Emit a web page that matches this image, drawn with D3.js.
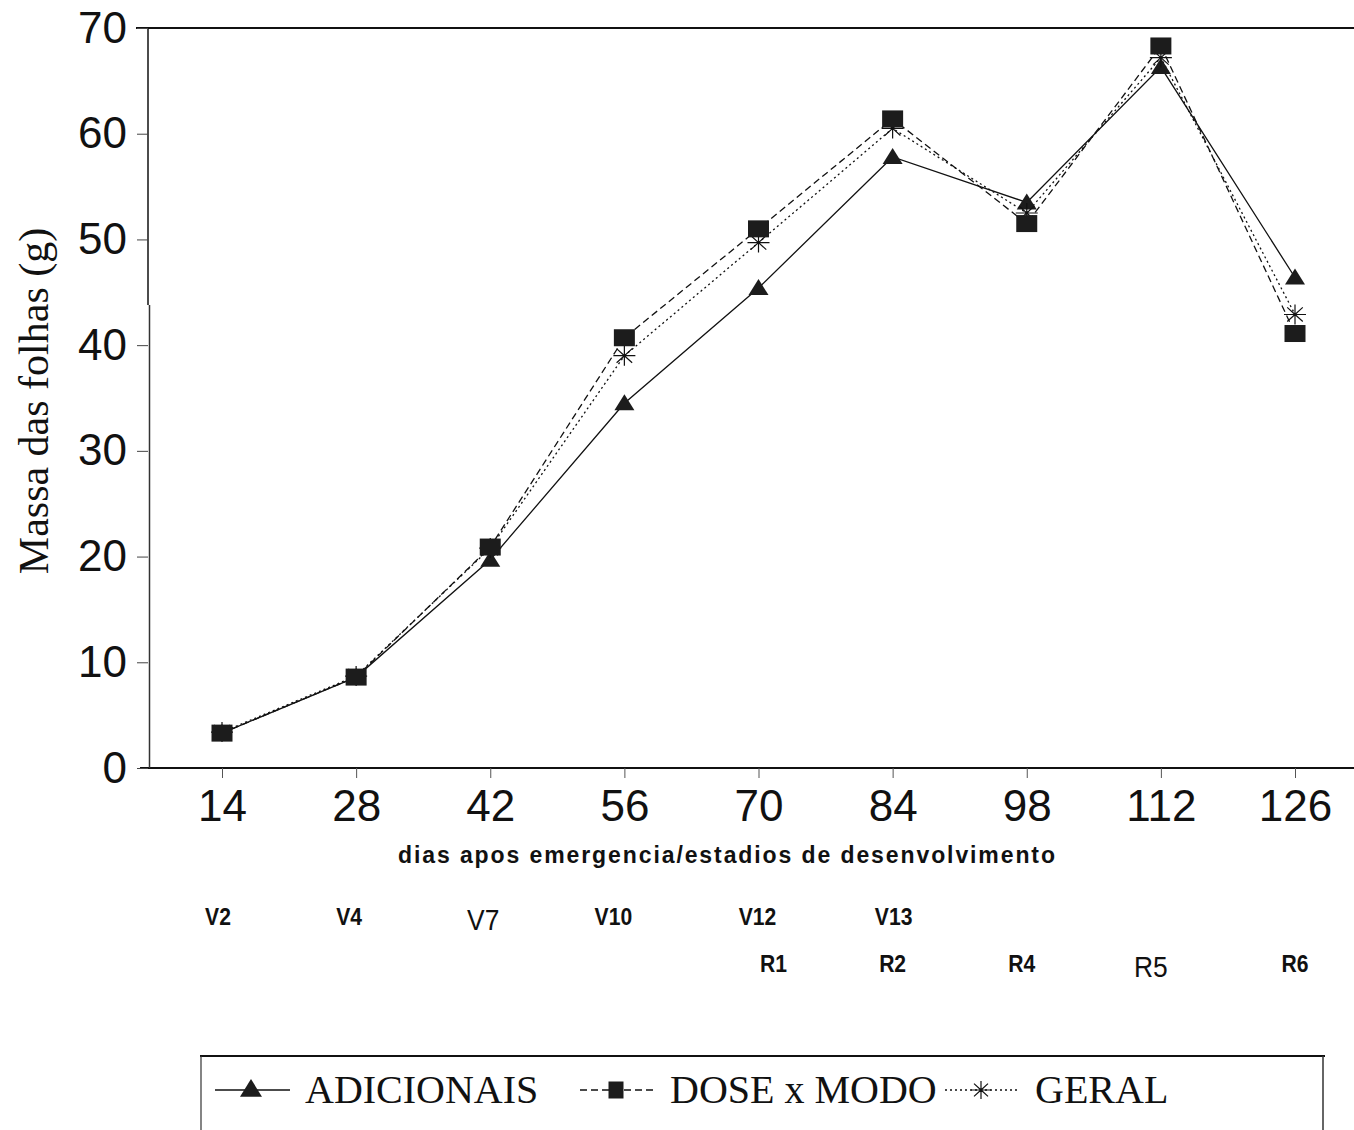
<!DOCTYPE html>
<html>
<head>
<meta charset="utf-8">
<script src="https://cdn.jsdelivr.net/npm/d3@7"></script>
<style>
  body { margin: 0; background: #fff; }
  svg { display: block; }
</style>
</head>
<body>
<div id="chart"></div>
<script>
// leaf mass by days after emergence
var days = [14, 28, 42, 56, 70, 84, 98, 112, 126];
var adicionais = [3.3, 8.6, 19.7, 34.5, 45.4, 57.8, 53.5, 66.3, 46.4];
var doseModo = [3.3, 8.6, 20.9, 40.7, 51.0, 61.4, 51.5, 68.3, 41.1];
var geral = [3.4, 8.7, 20.8, 39.0, 49.7, 60.5, 52.5, 67.2, 42.9];
var yTicks = [0, 10, 20, 30, 40, 50, 60, 70];

var vStages = ["V2", "V4", "V7", "V10", "V12", "V13"];
var vDays = [14, 28, 42, 56, 70, 84];
var rStages = ["R1", "R2", "R4", "R5", "R6"];
var rDays = [70, 84, 98, 112, 126];

var seriesNames = ["ADICIONAIS", "DOSE x MODO", "GERAL"];

var W = 1354, H = 1130;
var sans = "'Liberation Sans', Arial, Helvetica, sans-serif";
var serif = "'Liberation Serif', 'Times New Roman', serif";
var ink = "#111";

var svg = d3.select("#chart").append("svg")
    .attr("width", W)
    .attr("height", H);

var x = d3.scaleLinear().domain([14, 126]).range([222, 1295]);
var y = d3.scaleLinear().domain([0, 70]).range([768, 28]);

////////////////////////////////////////
// frame

svg.append("line")   // top border
    .attr("x1", 136).attr("x2", W)
    .attr("y1", y(70)).attr("y2", y(70))
    .style("stroke", ink).style("stroke-width", 2);

svg.append("line")   // x axis
    .attr("x1", 140).attr("x2", W)
    .attr("y1", y(0)).attr("y2", y(0))
    .style("stroke", ink).style("stroke-width", 2);

// y axis is drawn in two pieces, like the scan
svg.append("line")
    .attr("x1", 148).attr("x2", 148)
    .attr("y1", y(70)).attr("y2", 305)
    .style("stroke", ink).style("stroke-width", 1.5);
svg.append("line")
    .attr("x1", 149.5).attr("x2", 149.5)
    .attr("y1", 305).attr("y2", y(0))
    .style("stroke", "#333").style("stroke-width", 1.5);

////////////////////////////////////////
// axes

var yAxis = svg.append("g")
    .attr("transform", "translate(148,0)")
    .call(d3.axisLeft(y).tickValues(yTicks).tickSize(11).tickPadding(10).tickFormat(d3.format("d")));
yAxis.select(".domain").remove();
yAxis.selectAll("line").style("stroke", "#444").style("stroke-width", 1);
yAxis.selectAll("text")
    .style("font-family", sans)
    .style("font-size", "44px")
    .style("fill", ink);

var xAxis = svg.append("g")
    .attr("transform", "translate(0," + y(0) + ")")
    .call(d3.axisBottom(x).tickValues(days).tickSize(10).tickPadding(12).tickFormat(d3.format("d")));
xAxis.select(".domain").remove();
xAxis.selectAll("line").style("stroke", "#555").style("stroke-width", 1);
xAxis.selectAll("text")
    .style("font-family", sans)
    .style("font-size", "44px")
    .style("fill", ink);

// axis titles
svg.append("text")
    .attr("transform", "translate(48,401) rotate(-90)")
    .style("font-family", serif)
    .style("font-size", "42px")
    .style("text-anchor", "middle")
    .style("fill", ink)
    .text("Massa das folhas (g)");

svg.append("text")
    .attr("x", 398)
    .attr("y", 863)
    .attr("textLength", 657)
    .attr("lengthAdjust", "spacing")
    .style("font-family", sans)
    .style("font-size", "23px")
    .style("font-weight", "bold")
    .style("fill", ink)
    .text("dias apos emergencia/estadios de desenvolvimento");

// development stages (labels sit a little off their ticks in the scan)
var stageShift = { V2: -4, V4: -7, V7: -7, V10: -11, V12: -1, V13: 1, R1: 15, R2: 0, R4: -5, R5: -10, R6: 0 };
var bigStage = { V7: true, R5: true };

function stageLabels(cls, names, at, baseY) {
    svg.selectAll("text." + cls)
        .data(names)
        .enter().append("text")
        .attr("class", cls)
        .attr("x", function(d, i) { return x(at[i]) + stageShift[d]; })
        .attr("y", function(d) { return bigStage[d] ? baseY + 5 : baseY; })
        .attr("transform", function(d, i) {
            // slightly condensed, like the original typeface
            var cx = x(at[i]) + stageShift[d];
            return "translate(" + cx + ",0) scale(0.88,1) translate(" + (-cx) + ",0)";
        })
        .style("font-family", sans)
        .style("font-size", function(d) { return bigStage[d] ? "30px" : "24px"; })
        .style("font-weight", function(d) { return bigStage[d] ? "normal" : "bold"; })
        .style("text-anchor", "middle")
        .style("fill", ink)
        .text(function(d) { return d; });
}
stageLabels("vstage", vStages, vDays, 925);
stageLabels("rstage", rStages, rDays, 972);

////////////////////////////////////////
// series

var line = d3.line()
    .x(function(d, i) { return x(days[i]); })
    .y(function(d) { return y(d); });

var styles = [
    { data: adicionais, dash: null, width: 1.3 },
    { data: doseModo, dash: "7,4", width: 1.3 },
    { data: geral, dash: "2,3", width: 1.3 }
];

[2, 1, 0].forEach(function(k) {
    svg.append("path")
        .datum(styles[k].data)
        .attr("d", line)
        .style("fill", "none")
        .style("stroke", ink)
        .style("stroke-width", styles[k].width)
        .style("stroke-dasharray", styles[k].dash);
});

var triPath = "M0,-9L10,7L-10,7Z";
var starPath = (function() {
    var p = "";
    for (var a = 0; a < 8; a++) {
        var t = a * Math.PI / 4;
        p += "M0,0L" + (11 * Math.cos(t)).toFixed(2) + "," + (10 * Math.sin(t)).toFixed(2);
    }
    return p;
})();

function drawTri(g, cx, cy, s) {
    g.append("path")
        .attr("transform", "translate(" + cx + "," + cy + ") scale(" + s + ")")
        .attr("d", triPath)
        .style("fill", "#1c1c1c");
}
function drawSquare(g, cx, cy, w, h) {
    g.append("rect")
        .attr("x", cx - w / 2).attr("y", cy - h / 2)
        .attr("width", w).attr("height", h)
        .style("fill", "#1c1c1c");
}
function drawStar(g, cx, cy, s) {
    g.append("path")
        .attr("transform", "translate(" + cx + "," + cy + ") scale(" + s + ")")
        .attr("d", starPath)
        .style("fill", "none")
        .style("stroke", ink)
        .style("stroke-width", 1.2 / s);
}

var marks = svg.append("g");
adicionais.forEach(function(v, i) { drawTri(marks, x(days[i]), y(v), 1); });
geral.forEach(function(v, i) { drawStar(marks, x(days[i]), y(v), 1); });
doseModo.forEach(function(v, i) { drawSquare(marks, x(days[i]), y(v), 21, 17); });

////////////////////////////////////////
// legend

var leg = svg.append("g");
leg.append("line")
    .attr("x1", 200).attr("x2", 1325).attr("y1", 1056).attr("y2", 1056)
    .style("stroke", ink).style("stroke-width", 2);
leg.append("line")
    .attr("x1", 201).attr("x2", 201).attr("y1", 1056).attr("y2", H)
    .style("stroke", "#333").style("stroke-width", 1.2);
leg.append("line")
    .attr("x1", 1323).attr("x2", 1323).attr("y1", 1056).attr("y2", H)
    .style("stroke", "#333").style("stroke-width", 1.5);

var legX = [215, 580, 945];
var legY = 1090;
seriesNames.forEach(function(name, k) {
    leg.append("line")
        .attr("x1", legX[k]).attr("x2", legX[k] + 75)
        .attr("y1", legY).attr("y2", legY)
        .style("stroke", ink)
        .style("stroke-width", 1.3)
        .style("stroke-dasharray", styles[k].dash);
    var cx = legX[k] + 36;
    if (k === 0) drawTri(leg, cx, legY - 1, 1.1);
    if (k === 1) drawSquare(leg, cx, legY, 15, 17);
    if (k === 2) drawStar(leg, cx, legY, 0.9);
    leg.append("text")
        .attr("x", legX[k] + 90)
        .attr("y", legY + 13)
        .style("font-family", serif)
        .style("font-size", "40px")
        .style("fill", ink)
        .text(name);
});
</script>
</body>
</html>
